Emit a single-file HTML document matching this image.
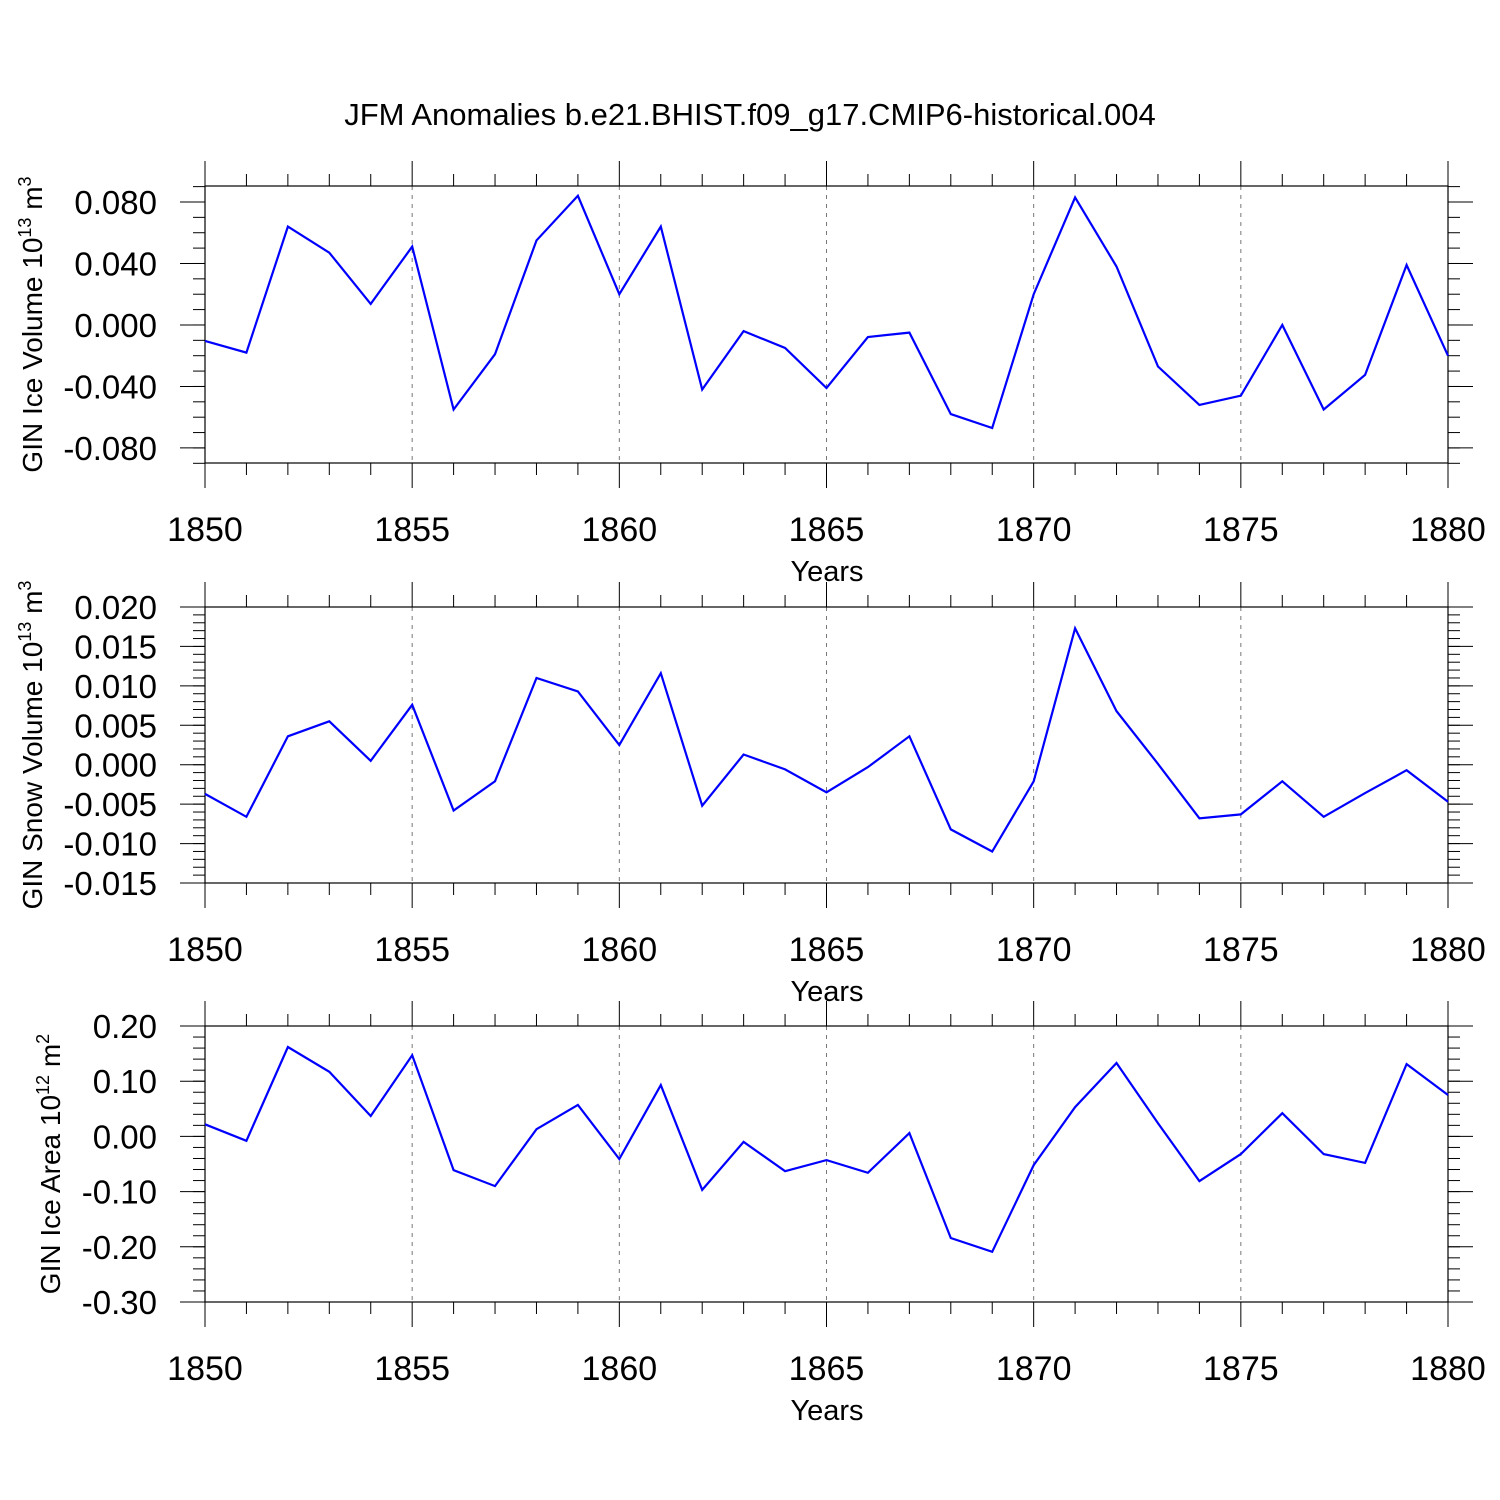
<!DOCTYPE html>
<html><head><meta charset="utf-8"><style>
html,body{margin:0;padding:0;background:#fff;}
svg{display:block;font-family:"Liberation Sans",sans-serif;}
</style></head><body>
<svg id="chart" width="1500" height="1500" viewBox="0 0 1500 1500">
<text x="750" y="125" font-size="31" text-anchor="middle">JFM Anomalies b.e21.BHIST.f09_g17.CMIP6-historical.004</text>
</svg>
<script>
const years = [];
for (let y = 1850; y <= 1880; y++) years.push(y);
const iceVolume = [-0.0104,-0.018,0.064,0.047,0.0137,0.051,-0.055,-0.019,0.055,0.084,0.020,0.064,-0.042,-0.004,-0.015,-0.041,-0.0078,-0.005,-0.058,-0.067,0.020,0.083,0.038,-0.027,-0.052,-0.046,0.000,-0.055,-0.0325,0.039,-0.020];
const snowVolume = [-0.0037,-0.0066,0.0036,0.0055,0.0005,0.0076,-0.0058,-0.0021,0.011,0.0093,0.0025,0.0116,-0.0052,0.0013,-0.0006,-0.0035,-0.0003,0.0036,-0.0082,-0.011,-0.0021,0.0173,0.0068,0.0001,-0.0068,-0.0063,-0.0021,-0.0066,-0.0036,-0.0007,-0.0047];
const iceArea = [0.022,-0.008,0.162,0.117,0.037,0.147,-0.061,-0.090,0.013,0.057,-0.041,0.093,-0.097,-0.010,-0.063,-0.043,-0.066,0.006,-0.184,-0.209,-0.052,0.053,0.133,0.024,-0.081,-0.032,0.042,-0.032,-0.048,0.131,0.075];
const xTicks = [1850,1855,1860,1865,1870,1875,1880];
const ticks1 = [0.08,0.04,0,-0.04,-0.08];
const labels1 = ["0.080","0.040","0.000","-0.040","-0.080"];
const ticks2 = [0.02,0.015,0.01,0.005,0,-0.005,-0.01,-0.015];
const labels2 = ["0.020","0.015","0.010","0.005","0.000","-0.005","-0.010","-0.015"];
const ticks3 = [0.2,0.1,0,-0.1,-0.2,-0.3];
const labels3 = ["0.20","0.10","0.00","-0.10","-0.20","-0.30"];

const NS = "http://www.w3.org/2000/svg";
const svg = document.getElementById('chart');
function mk(tag, attrs, parent) {
  const e = document.createElementNS(NS, tag);
  for (const k in attrs) e.setAttribute(k, attrs[k]);
  (parent || svg).appendChild(e);
  return e;
}
const X0 = 205, X1 = 1448;
function xs(yr) { return X0 + (yr - 1850) / 30 * (X1 - X0); }

const panels = [
  {name:'ice-volume', top:186, bot:463, vmax:0.0904, vmin:-0.0898, data:iceVolume, ticks:ticks1, labels:labels1, minor:0.01, mstart:-0.09, title:'GIN Ice Volume 10', sup:'13', unit:' m', usup:'3', tx:42},
  {name:'snow-volume', top:607, bot:883, vmax:0.02, vmin:-0.015, data:snowVolume, ticks:ticks2, labels:labels2, minor:0.001, mstart:-0.015, title:'GIN Snow Volume 10', sup:'13', unit:' m', usup:'3', tx:42},
  {name:'ice-area', top:1026, bot:1302, vmax:0.2, vmin:-0.3, data:iceArea, ticks:ticks3, labels:labels3, minor:0.02, mstart:-0.3, title:'GIN Ice Area 10', sup:'12', unit:' m', usup:'2', tx:60}
];

panels.forEach(p => {
  const g = mk('g', {});
  
  
  const ys = v => p.bot - (v - p.vmin) / (p.vmax - p.vmin) * (p.bot - p.top);
  xTicks.slice(1, -1).forEach(t => {
    const l = mk('line', {x1:xs(t), x2:xs(t), y1:p.top, y2:p.bot, stroke:'#777', 'stroke-width':1, 'stroke-dasharray':'4,5'}, g);
    
    
  });
  const fr = mk('rect', {x:X0, y:p.top, width:X1-X0, height:p.bot-p.top, fill:'none', stroke:'#000', 'stroke-width':1.2}, g);
  
  
  years.forEach(yr => {
    const major = xTicks.includes(yr);
    const len = major ? 25 : 12;
    mk('line', {x1:xs(yr), x2:xs(yr), y1:p.top, y2:p.top-len, stroke:'#000', 'stroke-width':1}, g);
    mk('line', {x1:xs(yr), x2:xs(yr), y1:p.bot, y2:p.bot+len, stroke:'#000', 'stroke-width':1}, g);
  });
  xTicks.forEach(t => {
    const tl = mk('text', {x:xs(t), y:p.bot+78, 'font-size':34, 'text-anchor':'middle'}, g);
    tl.textContent = t;
    
    
  });
  const xt = mk('text', {x:827, y:p.bot+118, 'font-size':29, 'text-anchor':'middle'}, g);
  xt.textContent = 'Years';
  
  
  const n = Math.round((p.vmax - p.mstart) / p.minor);
  for (let i = 0; i <= n; i++) {
    const v = p.mstart + i * p.minor;
    const y = ys(v);
    if (y < p.top - 1) continue;
    mk('line', {x1:X0, x2:X0-12, y1:y, y2:y, stroke:'#000', 'stroke-width':1}, g);
    mk('line', {x1:X1, x2:X1+12, y1:y, y2:y, stroke:'#000', 'stroke-width':1}, g);
  }
  p.ticks.forEach((v, i) => {
    const y = ys(v);
    mk('line', {x1:X0, x2:X0-25, y1:y, y2:y, stroke:'#000', 'stroke-width':1}, g);
    mk('line', {x1:X1, x2:X1+25, y1:y, y2:y, stroke:'#000', 'stroke-width':1}, g);
    const tl = mk('text', {x:157, y:y+12, 'font-size':33, 'text-anchor':'end'}, g);
    tl.textContent = p.labels[i];
    
    
  });
  const cy = (p.top + p.bot) / 2;
  const yt = mk('text', {x:0, y:0, 'font-size':28, 'text-anchor':'middle', transform:`translate(${p.tx},${cy}) rotate(-90)`}, g);
  
  
  const t1 = mk('tspan', {}, yt); t1.textContent = p.title;
  const t2 = mk('tspan', {dy:-11, 'font-size':18}, yt); t2.textContent = p.sup;
  const t3 = mk('tspan', {dy:11}, yt); t3.textContent = p.unit;
  const t4 = mk('tspan', {dy:-11, 'font-size':18}, yt); t4.textContent = p.usup;
  const pts = p.data.map((v, i) => xs(years[i]).toFixed(1) + ',' + ys(v).toFixed(1)).join(' ');
  const pl = mk('polyline', {points:pts, fill:'none', stroke:'#0000ff', 'stroke-width':2.2, 'stroke-linejoin':'miter'}, g);
  
  
});
</script>
</body></html>
